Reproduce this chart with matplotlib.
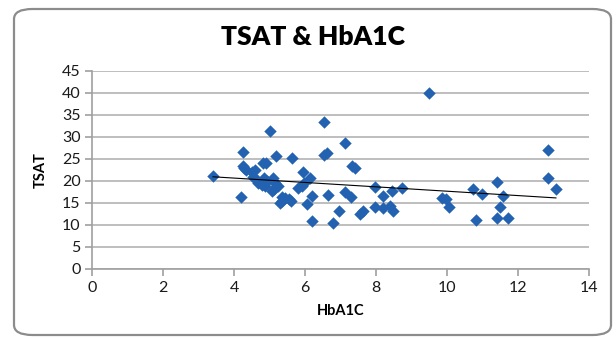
import numpy as np
import matplotlib
matplotlib.use("Agg")
import matplotlib.pyplot as plt
from matplotlib.patches import FancyBboxPatch

plt.rcParams['font.family'] = ['Lato', 'DejaVu Sans']

# HbA1C vs TSAT readings
hba1c = [3.4, 4.18, 4.25, 4.25, 4.28, 4.32, 4.49, 4.58, 4.54, 4.63,
         4.68, 4.77, 4.86, 4.91, 4.85, 4.82, 4.89, 5.0, 5.08, 5.15,
         5.24, 5.05, 5.13, 5.17, 5.35, 5.43, 5.29, 5.35, 5.55, 5.59,
         5.62, 5.8, 5.9, 5.97, 5.94, 6.13, 6.04, 6.18, 6.18, 6.53,
         6.53, 6.62, 6.63, 6.77, 6.96, 7.12, 7.12, 7.29, 7.31, 7.39,
         7.54, 7.63, 7.96, 7.95, 8.2, 8.2, 8.39, 8.43, 8.48, 8.73,
         9.48, 9.84, 9.96, 10.06, 10.72, 10.81, 10.99, 11.39, 11.39, 11.48,
         11.58, 11.72, 12.83, 12.83, 13.06]
tsat = [21.2, 16.4, 26.5, 23.5, 23.0, 22.6, 22.1, 22.5, 21.0, 20.2,
        19.5, 19.1, 18.9, 20.0, 20.6, 24.2, 24.2, 31.4, 20.6, 19.5,
        18.9, 17.7, 18.2, 25.6, 16.4, 16.1, 15.1, 15.5, 15.8, 15.5,
        25.2, 18.3, 18.9, 19.5, 22.0, 20.6, 14.8, 16.6, 11.0, 33.5,
        25.8, 26.3, 16.9, 10.4, 13.2, 28.7, 17.4, 16.4, 23.4, 22.9,
        12.5, 13.1, 18.7, 14.2, 16.6, 13.8, 14.3, 17.7, 13.1, 18.3,
        39.9, 16.1, 15.9, 14.2, 18.1, 11.1, 17.0, 19.7, 11.5, 14.2,
        16.6, 11.7, 27.0, 20.6, 18.2]

x_ticks = [0, 2, 4, 6, 8, 10, 12, 14]
y_ticks = [0, 5, 10, 15, 20, 25, 30, 35, 40, 45]

fig = plt.figure(figsize=(6.16, 3.38), dpi=100)
fig.patch.set_facecolor('white')

# rounded chart border
border = FancyBboxPatch((14 / 616, 3 / 338), 597 / 616, 326 / 338,
                        boxstyle="round,pad=0,rounding_size=0.03",
                        transform=fig.transFigure, facecolor='none',
                        edgecolor='#8c8c8c', linewidth=1.6)
fig.patches.append(border)

ax = fig.add_axes([92.3 / 616, 1 - 269 / 338, 497 / 616, 198 / 338])

ax.scatter(hba1c, tsat, marker='D', s=40, color='#2262b0', zorder=3, linewidths=0)

# linear trend line over the data range
coef = np.polyfit(hba1c, tsat, 1)
xs = np.array([min(hba1c), max(hba1c)])
ax.plot(xs, np.polyval(coef, xs), color='black', linewidth=0.8, zorder=4)

ax.set_xlim(0, 14)
ax.set_ylim(0, 45)
ax.set_xticks(x_ticks)
ax.set_yticks(y_ticks)
ax.yaxis.grid(True, color='#b3b3b3', linewidth=1.2)
ax.set_axisbelow(True)

for side in ['top', 'right']:
    ax.spines[side].set_visible(False)
for side in ['left', 'bottom']:
    ax.spines[side].set_color('#a0a0a0')
    ax.spines[side].set_linewidth(1.2)

ax.tick_params(axis='both', colors='#a0a0a0', length=5, width=1.2,
               labelcolor='#1a1a1a', labelsize=11.5)
ax.tick_params(axis='x', pad=4)

ax.set_xlabel('HbA1C', fontsize=10.5, fontweight='bold', labelpad=6)
ax.set_ylabel('TSAT', fontsize=10.5, fontweight='bold', labelpad=10)
fig.text(313 / 616, 1 - 37 / 338, 'TSAT & HbA1C', ha='center', va='center',
         fontsize=19, fontweight='heavy')

fig.savefig('out.png', dpi=100)
